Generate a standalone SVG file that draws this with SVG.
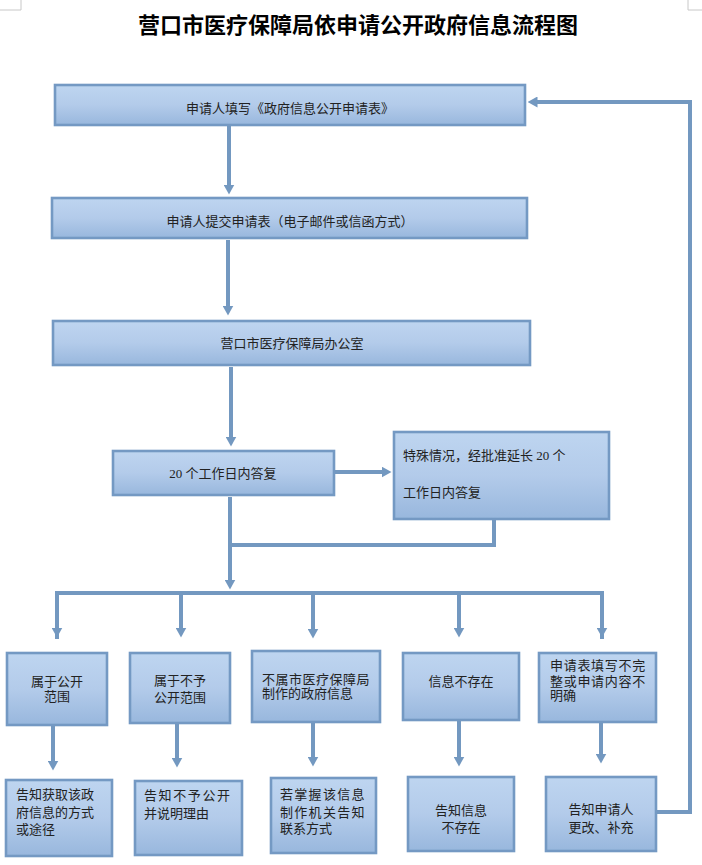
<svg xmlns="http://www.w3.org/2000/svg" width="702" height="865" viewBox="0 0 702 865">
<defs>
<linearGradient id="g" x1="0" y1="0" x2="0" y2="1">
<stop offset="0" stop-color="#bed5f0"/>
<stop offset="0.5" stop-color="#b3cbea"/>
<stop offset="1" stop-color="#98b7dd"/>
</linearGradient>
<marker id="ah" viewBox="0 0 10 11" refX="0.5" refY="5.5" markerWidth="10" markerHeight="11" markerUnits="userSpaceOnUse" orient="auto">
<path d="M0,0 L10,5.5 L0,11 z" fill="#7398c0"/>
</marker>
<style>
.box{fill:url(#g);stroke:#7499c3;stroke-width:2.6}
.t{font-family:"Liberation Serif","Noto Sans CJK SC",serif;font-size:13px;fill:#222}
.c{text-anchor:middle}
.ln{fill:none;stroke:#7398c0;stroke-width:4}
.ar{fill:none;stroke:#7398c0;stroke-width:4;marker-end:url(#ah)}
.mk{fill:none;stroke:#c8c8c8;stroke-width:1}
</style>
</defs>
<rect width="702" height="865" fill="#fff"/>
<path class="mk" d="M0,10 H21 V0 M688,0 V10 H702"/>
<text x="358" y="33" font-family="'Noto Sans CJK SC',serif" font-size="22" font-weight="bold" text-anchor="middle" fill="#000">营口市医疗保障局依申请公开政府信息流程图</text>

<g id="connectors">
<line class="ar" x1="229" y1="126" x2="229" y2="185"/>
<line class="ar" x1="228" y1="240" x2="228" y2="306"/>
<line class="ar" x1="231" y1="367" x2="231" y2="437"/>
<line class="ar" x1="335" y1="472" x2="382" y2="472"/>
<polyline class="ln" points="230,497 230,545 494,545 494,519"/>
<line class="ar" x1="230" y1="543" x2="230" y2="580"/>
<polyline class="ln" points="57,639 57,593 602,593 602,639"/>
<line class="ar" x1="57" y1="593" x2="57" y2="628"/>
<line class="ar" x1="181" y1="593" x2="181" y2="628"/>
<line class="ar" x1="313" y1="593" x2="313" y2="629"/>
<line class="ar" x1="459" y1="593" x2="459" y2="628"/>
<line class="ar" x1="602" y1="593" x2="602" y2="628"/>
<line class="ar" x1="53" y1="726" x2="53" y2="761"/>
<line class="ar" x1="177" y1="724" x2="177" y2="758"/>
<line class="ar" x1="313" y1="723" x2="313" y2="757"/>
<line class="ar" x1="459" y1="721" x2="459" y2="757"/>
<line class="ar" x1="601" y1="723" x2="601" y2="754"/>
<polyline class="ar" points="656,812 690,812 690,102 537,102"/>
</g>

<g id="n1"><rect class="box" x="55" y="85" width="470" height="40"/><text class="t c" x="290" y="112.5">申请人填写《政府信息公开申请表》</text></g>
<g id="n2"><rect class="box" x="52" y="198" width="475" height="40"/><text class="t c" x="290" y="225.5">申请人提交申请表（电子邮件或信函方式）</text></g>
<g id="n3"><rect class="box" x="53" y="321" width="477" height="44"/><text class="t c" x="292" y="347.5">营口市医疗保障局办公室</text></g>
<g id="n4"><rect class="box" x="113" y="451" width="221" height="44"/><text class="t c" x="223" y="477.5">20 个工作日内答复</text></g>
<g id="n5"><rect class="box" x="394" y="432" width="215" height="87"/><text class="t" x="403" y="459.5">特殊情况，经批准延长 20 个</text><text class="t" x="403" y="496.5">工作日内答复</text></g>

<g id="a1"><rect class="box" x="7" y="653" width="100" height="72"/><text class="t c" x="57" y="685.5">属于公开</text><text class="t c" x="57" y="701">范围</text></g>
<g id="a2"><rect class="box" x="6" y="780" width="106" height="76"/><text class="t" x="16" y="799">告知获取该政</text><text class="t" x="16" y="816.5">府信息的方式</text><text class="t" x="16" y="834">或途径</text></g>
<g id="b1"><rect class="box" x="130" y="653" width="100" height="70"/><text class="t c" x="180" y="684.5">属于不予</text><text class="t c" x="180" y="701.5">公开范围</text></g>
<g id="b2"><rect class="box" x="135" y="781" width="107" height="74"/><text class="t" x="144" y="799.5" letter-spacing="1.6">告知不予公开</text><text class="t" x="144" y="817.5">并说明理由</text></g>
<g id="c1"><rect class="box" x="252" y="651" width="128" height="71"/><text class="t" x="262" y="683.5" letter-spacing="0.5">不属市医疗保障局</text><text class="t" x="262" y="698">制作的政府信息</text></g>
<g id="c2"><rect class="box" x="271" y="778" width="105" height="75"/><text class="t" x="280" y="798.5" letter-spacing="1.3">若掌握该信息</text><text class="t" x="280" y="816.5" letter-spacing="1.3">制作机关告知</text><text class="t" x="280" y="833">联系方式</text></g>
<g id="d1"><rect class="box" x="403" y="653" width="116" height="67"/><text class="t c" x="461" y="685.5">信息不存在</text></g>
<g id="d2"><rect class="box" x="408" y="777" width="106" height="74"/><text class="t c" x="461" y="814.5">告知信息</text><text class="t c" x="461" y="831.5">不存在</text></g>
<g id="e1"><rect class="box" x="539" y="653" width="117" height="69"/><text class="t" x="550" y="669.5" letter-spacing="0.7">申请表填写不完</text><text class="t" x="550" y="685.5" letter-spacing="0.7">整或申请内容不</text><text class="t" x="550" y="700">明确</text></g>
<g id="e2"><rect class="box" x="546" y="777" width="110" height="74"/><text class="t c" x="601" y="813.5">告知申请人</text><text class="t c" x="601" y="831.5">更改、补充</text></g>
</svg>
